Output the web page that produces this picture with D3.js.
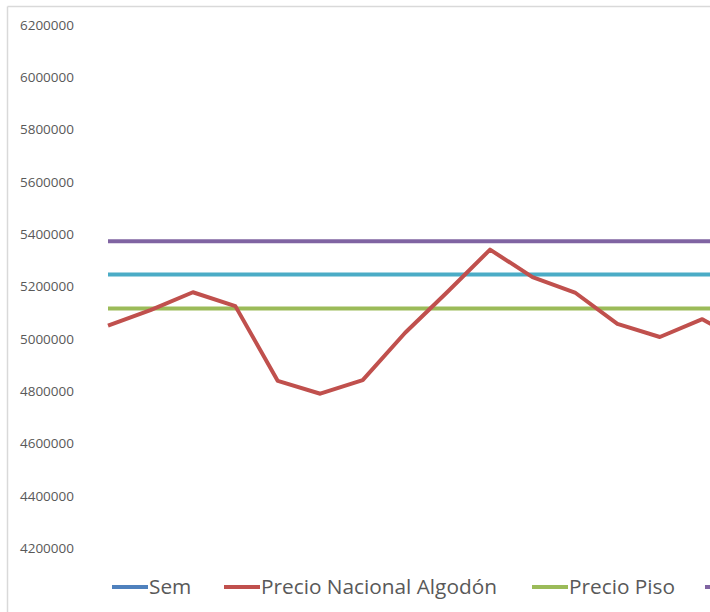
<!DOCTYPE html>
<html>
<head>
<meta charset="utf-8">
<script src="https://cdn.jsdelivr.net/npm/d3@7"></script>
<style>
  html, body { margin: 0; padding: 0; background: #fff; overflow: hidden; }
  svg { display: block; }
</style>
</head>
<body>
<svg id="chart" width="710" height="612"></svg>
<script>
// ---- data ----
const semanas = [1, 2, 3, 4, 5, 6, 7, 8, 9, 10, 11, 12, 13, 14, 15, 16];
const precioNacional = [5050000, 5110000, 5178000, 5125000, 4839000, 4790000, 4842000, 5023000,
                        5180000, 5341000, 5236000, 5177000, 5057000, 5007000, 5075000, 4985000];
const precioPiso = 5116000;
const precioMedio = 5246000;
const precioTecho = 5373000;
const yTicks = [4200000, 4400000, 4600000, 4800000, 5000000, 5200000, 5400000, 5600000, 5800000, 6000000, 6200000];
const legendNames = ["Sem", "Precio Nacional Algodón", "Precio Piso", ""];
const legendColors = ["#4f81bd", "#c0504d", "#9bbb59", "#8064a2"];

const svg = d3.select("#chart");
const font = "Open Sans, Noto Sans, sans-serif";

// chart border (top & left visible)
svg.append("line").attr("x1", 7.5).attr("x2", 7.5).attr("y1", 6.5).attr("y2", 612)
  .attr("stroke", "#d9d9d9").attr("stroke-width", 1.5);
svg.append("line").attr("x1", 7.5).attr("x2", 710).attr("y1", 6.5).attr("y2", 6.5)
  .attr("stroke", "#d9d9d9").attr("stroke-width", 1.5);

const x = d3.scaleLinear().domain([1, 16]).range([108, 108 + 15 * 42.45]);
const y = d3.scaleLinear().domain([4200000, 6200000]).range([548, 25]);

// y axis (labels only)
const yAxis = d3.axisLeft(y).tickValues(yTicks).tickFormat(d3.format("d")).tickSize(0).tickPadding(0);
const ga = svg.append("g").attr("transform", "translate(74,0)").call(yAxis);
ga.select(".domain").remove();
ga.selectAll("text").attr("fill", "#595959").style("font-family", font).style("font-size", "13.5px");

// horizontal reference lines
const refs = [
  { v: precioTecho, c: "#8064a2" },
  { v: precioMedio, c: "#4bacc6" },
  { v: precioPiso, c: "#9bbb59" }
];
svg.selectAll("line.ref").data(refs).enter().append("line").attr("class", "ref")
  .attr("x1", x(semanas[0])).attr("x2", 760)
  .attr("y1", d => y(d.v)).attr("y2", d => y(d.v))
  .attr("stroke", d => d.c).attr("stroke-width", 4);

// national price line
const line = d3.line().x((d, i) => x(semanas[i])).y(d => y(d));
svg.append("path").datum(precioNacional).attr("d", line)
  .attr("fill", "none").attr("stroke", "#c0504d").attr("stroke-width", 4)
  .attr("stroke-linejoin", "round");

// legend
const legY = 587;
const legX = [112, 224, 532, 705];
const lg = svg.selectAll("g.leg").data(legendNames).enter().append("g").attr("class", "leg")
  .attr("transform", (d, i) => `translate(${legX[i]},${legY})`);
lg.append("line").attr("x1", 0).attr("x2", 36).attr("y1", 0).attr("y2", 0)
  .attr("stroke", (d, i) => legendColors[i]).attr("stroke-width", 4);
lg.filter(d => d !== "").append("text").attr("x", 37).attr("y", 0).attr("dy", "0.35em")
  .text(d => d).attr("fill", "#595959")
  .style("font-family", font).style("font-size", "20.8px");
</script>
</body>
</html>
